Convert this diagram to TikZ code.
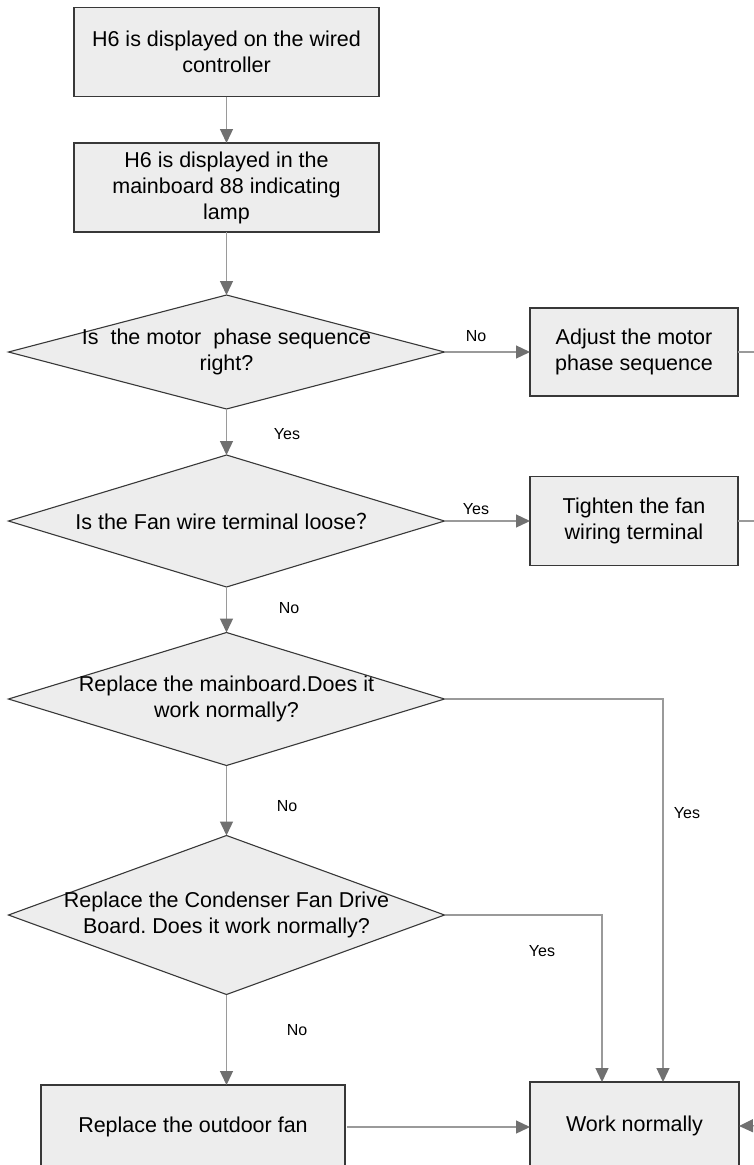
\documentclass[tikz,border=0pt]{standalone}
\usepackage{fontspec}
\setmainfont{Liberation Sans}
\newfontfamily\cjk{Noto Sans CJK SC}
\usetikzlibrary{shapes.geometric,arrows.meta,calc}
\definecolor{boxfill}{HTML}{EDEDED}
\definecolor{boxline}{HTML}{383838}
\definecolor{conline}{HTML}{9A9A9A}
\definecolor{tipgray}{HTML}{707070}
\frenchspacing
\begin{document}
\begin{tikzpicture}[x=1pt,y=-1pt,
  stepbox/.style={draw=boxline,fill=boxfill,line width=1.1pt,inner sep=0pt,outer sep=0pt,
    align=center,font=\fontsize{21.5}{26}\selectfont},
  dia/.style={diamond,draw=boxline,fill=boxfill,line width=1.1pt,inner sep=0pt,outer sep=0pt},
  dtext/.style={align=center,inner sep=0pt,font=\fontsize{21.5}{26}\selectfont},
  lbl/.style={inner sep=0pt,font=\fontsize{16}{19}\selectfont},
  con/.style={draw=conline,line width=1.3pt,-{Triangle[length=14pt,width=13pt,color=tipgray]}},
  plain/.style={draw=conline,line width=1.3pt}
]
\useasboundingbox (0,0) rectangle (754,1165);
\clip (0,0) rectangle (754,1165);
\fill[white] (0,0) rectangle (754,1165);

% process boxes
\node[stepbox,minimum width=305pt,minimum height=89pt] (b1) at (226.5,52) {H6 is displayed on the wired\\controller};
\node[stepbox,minimum width=305pt,minimum height=89pt] (b2) at (226.5,187.5) {H6 is displayed in the\\mainboard 88 indicating\\lamp};
\node[stepbox,minimum width=208pt,minimum height=88pt] (adj) at (634,352) {Adjust the motor\\phase sequence};
\node[stepbox,minimum width=208pt,minimum height=89pt] (tight) at (634,521) {Tighten the fan\\wiring terminal};
\node[stepbox,minimum width=304pt,minimum height=84pt] (fan) at (193,1127) {Replace the outdoor fan};
\node[stepbox,minimum width=209pt,minimum height=88pt] (work) at (634.5,1126) {Work normally};

% decisions
\node[dia,minimum width=436pt,minimum height=114pt] (d1) at (226.5,352) {};
\node[dtext] (d1t) at (d1) {Is\ \ the motor\ \ phase sequence\\right?};
\node[dia,minimum width=436pt,minimum height=132pt] (d2) at (226.5,521) {};
\node[dtext] (d2t) at (d2) {Is the Fan wire terminal loose{\cjk ？}};
\node[dia,minimum width=436pt,minimum height=133pt] (d3) at (226.5,699) {};
\node[dtext] (d3t) at (d3) {Replace the mainboard.Does it\\work normally?};
\node[dia,minimum width=436pt,minimum height=159pt] (d4) at (226.5,915) {};
\node[dtext] (d4t) at (d4) {Replace the Condenser Fan Drive\\Board. Does it work normally?};

% free ends beyond the right edge
\coordinate (adjout) at (770,352);
\coordinate (tightout) at (770,521);
\coordinate (workin) at (790,1125);

% connectors
\draw[con] (b1) -- (b2);
\draw[con] (b2) -- (d1);
\draw[con] (d1.east) -- (adj.west);
\draw[plain] (adj.east) -- (adjout);
\draw[con] (d1.south) -- (d2.north);
\draw[con] (d2.east) -- (tight.west);
\draw[plain] (tight.east) -- (tightout);
\draw[con] (d2.south) -- (d3.north);
\draw[con] (d3.east) -| ([xshift=28.5pt]work.north);
\draw[con] (d3.south) -- (d4.north);
\draw[con] (d4.east) -| ([xshift=-32.5pt]work.north);
\draw[con] (d4.south) -- (d4.south |- fan.north);
\draw[con] ([xshift=2pt]fan.east) -- (fan.east -| work.west);
\draw[con] (workin) -- (work.east);

% labels
\node[lbl] (l1) at (476,336) {No};
\node[lbl] (l2) at (287,434) {Yes};
\node[lbl] (l3) at (476,509) {Yes};
\node[lbl] (l4) at (289,608) {No};
\node[lbl] (l5) at (287,806) {No};
\node[lbl] (l6) at (687,813) {Yes};
\node[lbl] (l7) at (542,951) {Yes};
\node[lbl] (l8) at (297,1030) {No};
\end{tikzpicture}
\end{document}
